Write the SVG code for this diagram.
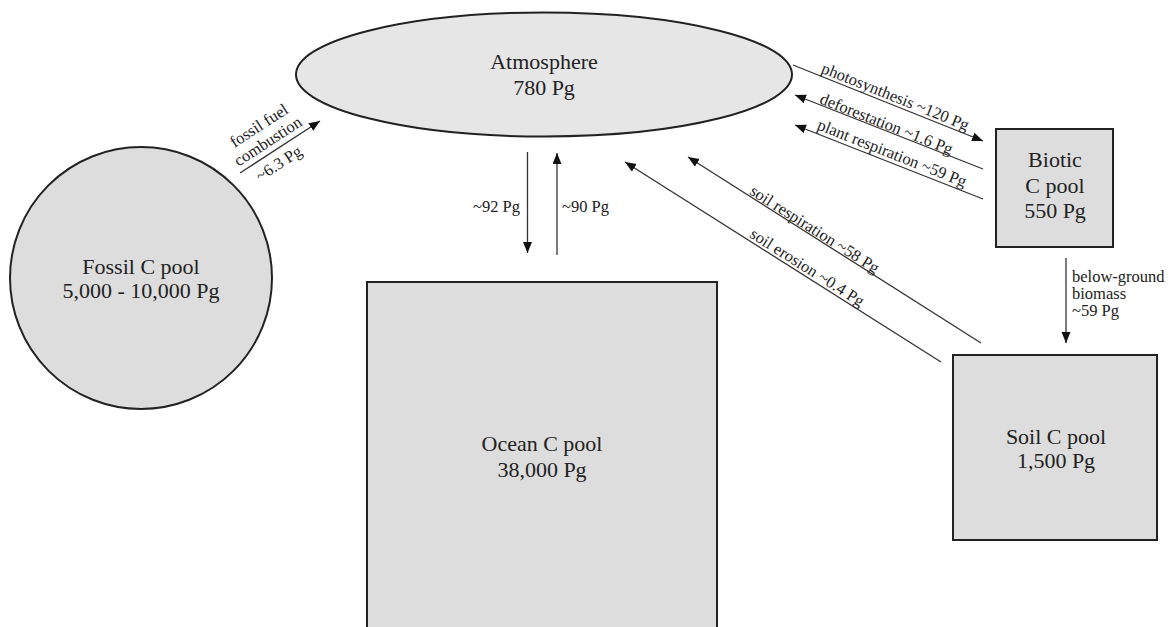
<svg xmlns="http://www.w3.org/2000/svg" width="1172" height="627" viewBox="0 0 1172 627">
<style>
.pool{fill:#dddddd;stroke:#222;stroke-width:2}
.atm{fill:#e6e6e6;stroke:#222;stroke-width:2}
.big{font-family:"Liberation Serif","Times New Roman",serif;font-size:22px;fill:#222;text-anchor:middle}
.lbl{font-family:"Liberation Serif","Times New Roman",serif;font-size:16.5px;fill:#222}
.c{text-anchor:middle}
.con{stroke:#333;stroke-width:1.3;fill:none;marker-end:url(#ah)}
</style>
<defs>
<marker id="ah" markerUnits="userSpaceOnUse" markerWidth="12" markerHeight="10" refX="11" refY="4.5" orient="auto">
<path d="M0,0 L11,4.5 L0,9 z" fill="#111"/>
</marker>
</defs>
<rect width="1172" height="627" fill="#fff"/>

<g id="atmosphere">
<ellipse class="atm" cx="544" cy="74.5" rx="248" ry="62"/>
<text class="big" x="544" y="69">Atmosphere</text>
<text class="big" x="544" y="95">780 Pg</text>
</g>

<g id="fossil">
<circle class="pool" cx="141" cy="278" r="131"/>
<text class="big" x="141" y="274">Fossil C pool</text>
<text class="big" x="141" y="298">5,000 - 10,000 Pg</text>
</g>

<g id="ocean">
<path class="pool" d="M367,640 L367,282 L717,282 L717,640"/>
<text class="big" x="542" y="451">Ocean C pool</text>
<text class="big" x="542" y="477">38,000 Pg</text>
</g>

<g id="biotic">
<rect class="pool" x="996" y="129" width="117" height="118"/>
<text class="big" x="1055" y="167">Biotic</text>
<text class="big" x="1055" y="193">C pool</text>
<text class="big" x="1055" y="218">550 Pg</text>
</g>

<g id="soil">
<rect class="pool" x="953" y="355" width="204" height="185"/>
<text class="big" x="1056" y="444">Soil C pool</text>
<text class="big" x="1056" y="468">1,500 Pg</text>
</g>

<g id="connectors">
<line class="con" x1="240" y1="173" x2="320" y2="121"/>
<line class="con" x1="527.5" y1="152" x2="527.5" y2="253"/>
<line class="con" x1="557" y1="255" x2="557" y2="153"/>
<line class="con" x1="793" y1="65" x2="983" y2="141"/>
<line class="con" x1="983" y1="169" x2="795" y2="95"/>
<line class="con" x1="983" y1="199" x2="795" y2="125"/>
<line class="con" x1="981" y1="343" x2="688" y2="157"/>
<line class="con" x1="941" y1="362" x2="625" y2="162"/>
<line class="con" x1="1066" y1="258" x2="1066" y2="343"/>
</g>

<g id="labels">
<g transform="translate(280,147) rotate(-33)">
<text class="lbl c" x="-6" y="-24">fossil fuel</text>
<text class="lbl c" x="-7" y="-6">combustion</text>
<text class="lbl c" x="-10" y="18.5">~6.3 Pg</text>
</g>
<text class="lbl" x="520" y="212" text-anchor="end">~92 Pg</text>
<text class="lbl" x="562" y="212">~90 Pg</text>
<text class="lbl" transform="translate(820.3,72.4) rotate(21.8)">photosynthesis ~120 Pg</text>
<text class="lbl" transform="translate(818.7,103) rotate(21.5)">deforestation ~1.6 Pg</text>
<text class="lbl" transform="translate(816.3,129.1) rotate(21.5)">plant respiration ~59 Pg</text>
<text class="lbl" transform="translate(748.7,193.8) rotate(32.4)">soil respiration ~58 Pg</text>
<text class="lbl" transform="translate(748.7,236.8) rotate(32.3)">soil erosion ~0.4 Pg</text>
<text class="lbl" x="1072" y="282">below-ground</text>
<text class="lbl" x="1072" y="299">biomass</text>
<text class="lbl" x="1072" y="316">~59 Pg</text>
</g>
</svg>
